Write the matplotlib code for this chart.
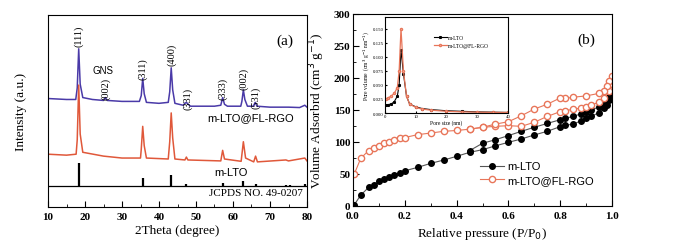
import matplotlib.pyplot as plt
from matplotlib.ticker import MultipleLocator

# ---- (a) XRD data, y in arbitrary units (0-100) ----
blue_x = [10, 15, 17.5, 17.9, 18.3, 18.7, 19.4, 22, 25, 25.5, 26, 30, 34.7, 35.2, 35.6, 36.0,
          36.6, 40, 42.5, 42.9, 43.3, 43.7, 44.3, 46.5, 47.0, 47.4, 47.9, 48.5, 55, 56.7, 57.2,
          57.7, 58.5, 62.1, 62.4, 62.8, 63.2, 63.9, 65.5, 66.0, 66.5, 70, 75, 78, 79.4, 80]
blue_y = [56.5, 56, 56, 62, 82.4, 64, 57, 56, 55.5, 57, 55.5, 55, 55, 58, 67, 59,
          54.5, 54, 54.5, 60, 72.5, 61, 54, 53, 54, 54.5, 53.5, 52.5, 52.5, 53, 57,
          53.5, 52.5, 52.5, 55, 61, 56, 52.5, 52.5, 54.5, 52.5, 52, 52, 51.8, 53, 52]

red_x = [10, 15, 17.6, 17.9, 18.3, 18.7, 19.4, 25, 30, 35, 35.2, 35.6, 36.0, 36.6, 42.5, 42.9,
         43.3, 43.7, 44.3, 47.0, 47.4, 47.8, 56.7, 57.2, 57.7, 62.2, 62.8, 63.4, 65.6, 66.1,
         66.6, 74.3, 75, 79.4, 80]
red_y = [27.5, 27, 27.5, 35, 63.5, 38, 28.5, 26.5, 25.5, 25.5, 30, 42, 32, 25.5, 25, 34,
         49, 36, 25, 24.5, 26, 24.5, 24, 29.5, 25, 23.8, 34, 25.5, 23.5, 26.5,
         23.5, 24.5, 24, 25.5, 24]

ref_pos = [18.3, 35.6, 43.3, 47.4, 57.2, 62.8, 66.1, 74.3, 75.3, 79.4]
ref_top = [22.8, 15.0, 16.6, 11.8, 12.6, 13.6, 12.2, 11.5, 11.5, 11.8]
ref_base = 11

hkl_labels = ['(111)', '(002)', '(311)', '(400)', '(331)', '(333)', '(002)', '(531)']
hkl_x = [18.3, 25.5, 35.6, 43.3, 47.7, 57.2, 62.8, 66.1]
hkl_y = [89.6, 62, 72.5, 80, 57, 62, 67, 57.5]

# ---- (b) N2 isotherm ----
lto_ads_p = [0.005, 0.03, 0.06, 0.08, 0.10, 0.12, 0.14, 0.16, 0.18, 0.20, 0.25, 0.30, 0.35, 0.40,
             0.45, 0.50, 0.55, 0.60, 0.65, 0.70, 0.75, 0.80, 0.82, 0.85, 0.88, 0.90, 0.92, 0.95,
             0.97, 0.98, 0.99, 1.0]
lto_ads_v = [2, 17, 29, 33, 38.5, 42, 45, 48.4, 51.5, 55, 60.4, 66.6, 71.8, 77.6,
             83.8, 88, 94, 99.5, 104.7, 111, 116.7, 124, 126, 128, 133, 137, 140, 146,
             153, 158, 165, 172]
lto_des_p = [1.0, 0.99, 0.98, 0.97, 0.95, 0.92, 0.90, 0.88, 0.85, 0.82, 0.80, 0.75, 0.70, 0.65,
             0.60, 0.55, 0.50, 0.45]
lto_des_v = [175, 170, 165, 160, 155, 150, 147, 144, 140, 137, 134.8, 129, 123, 116.7,
             110, 103.6, 98, 86.4]

rgo_ads_p = [0.005, 0.03, 0.06, 0.08, 0.10, 0.12, 0.14, 0.16, 0.18, 0.20, 0.25, 0.30, 0.35, 0.40,
             0.45, 0.50, 0.55, 0.60, 0.65, 0.70, 0.75, 0.80, 0.82, 0.85, 0.88, 0.90, 0.92, 0.95,
             0.97, 0.99, 1.0]
rgo_ads_v = [50, 74.5, 86.5, 90.6, 94, 98, 100.5, 103.6, 106, 107, 111.5, 114, 116.7, 118,
             120, 123, 124.5, 125.5, 124.5, 130.8, 140, 147.4, 149, 151, 153, 155, 158, 162,
             168, 180, 190]
rgo_des_p = [1.0, 0.99, 0.98, 0.97, 0.95, 0.90, 0.85, 0.82, 0.80, 0.75, 0.70, 0.65, 0.60, 0.55,
             0.50, 0.45]
rgo_des_v = [203, 195, 188, 180, 176, 172, 170, 168, 168.8, 159, 151.5, 141, 131.7, 128,
             123, 120]

# ---- inset: pore size distribution ----
psd_lto_x = [0.3, 1, 2, 3, 4, 4.6, 5.2, 6, 7, 8, 10, 12, 15, 20, 25, 30, 35, 40]
psd_lto_y = [0.014, 0.015, 0.016, 0.02, 0.03, 0.05, 0.113, 0.07, 0.03, 0.016, 0.011, 0.008,
             0.006, 0.004, 0.003, 0.002, 0.0015, 0.001]
psd_rgo_x = [0.3, 1, 2, 3, 4, 4.6, 5.2, 6, 7, 8, 10, 12, 15, 20, 25, 30, 35, 40]
psd_rgo_y = [0.025, 0.027, 0.03, 0.035, 0.045, 0.075, 0.15, 0.075, 0.03, 0.016, 0.01, 0.007,
             0.005, 0.003, 0.002, 0.0015, 0.001, 0.001]

blue = '#4a3aa8'
red = '#e0583a'
orange = '#e8765a'
serif = 'Liberation Serif'
sans = 'Liberation Sans'

fig = plt.figure(figsize=(6.96, 2.51), dpi=100)
W, H = 696, 251

# panel (a)
ax1 = fig.add_axes([48 / W, 1 - 208 / H, (307 - 48) / W, (208 - 16) / H])
ax1.plot(blue_x, blue_y, color=blue, lw=1.1)
ax1.plot(red_x, red_y, color=red, lw=1.1)
ax1.vlines(ref_pos, ref_base, ref_top, color='black', lw=1.6)
ax1.axhline(ref_base, color='black', lw=0.9)
for lab, x, y in zip(hkl_labels, hkl_x, hkl_y):
    ax1.text(x, y, lab, rotation=90, ha='center', va='center', fontsize=7.5, family=serif)
ax1.text(24.9, 71.5, 'GNS', ha='center', va='center', fontsize=7, family=sans)
ax1.text(74, 87, '(a)', ha='center', va='center', fontsize=11, family=serif)
ax1.text(76.5, 47, 'm-LTO@FL-RGO', ha='right', va='center', fontsize=8, family=sans)
ax1.text(55, 18, 'm-LTO', ha='left', va='center', fontsize=8, family=sans)
ax1.text(79, 7.3, 'JCPDS NO. 49-0207', ha='right', va='center', fontsize=8, family=serif)
ax1.set_xlim(10, 80)
ax1.set_ylim(0, 100)
ax1.set_yticks([])
ax1.xaxis.set_major_locator(MultipleLocator(10))
ax1.xaxis.set_minor_locator(MultipleLocator(5))
ax1.tick_params(axis='x', which='both', direction='in', labelsize=8)
ax1.tick_params(axis='x', which='major', length=4)
ax1.tick_params(axis='x', which='minor', length=2)
for t in ax1.get_xticklabels():
    t.set_family(serif)
    t.set_fontweight('bold')
ax1.set_xlabel('2Theta (degree)', fontsize=9.5, family=serif, labelpad=2)
ax1.set_ylabel('Intensity (a.u.)', fontsize=9.5, family=serif)
ax1.yaxis.set_label_coords(-0.08, 0.5)

# panel (b)
ax2 = fig.add_axes([353 / W, 1 - 207 / H, (612 - 353) / W, (207 - 15) / H])
ax2.plot(lto_ads_p, lto_ads_v, color='#555555', lw=0.8, marker='o', ms=4,
         mfc='black', mec='black', label='m-LTO')
ax2.plot(lto_des_p, lto_des_v, color='#555555', lw=0.8, marker='o', ms=4,
         mfc='black', mec='black')
ax2.plot(rgo_ads_p, rgo_ads_v, color=orange, lw=0.8, marker='o', ms=4.5,
         mfc='white', mec=orange, label='m-LTO@FL-RGO')
ax2.plot(rgo_des_p, rgo_des_v, color=orange, lw=0.8, marker='o', ms=4.5,
         mfc='white', mec=orange)
ax2.set_xlim(0, 1.0)
ax2.set_ylim(0, 300)
ax2.xaxis.set_major_locator(MultipleLocator(0.2))
ax2.xaxis.set_minor_locator(MultipleLocator(0.1))
ax2.yaxis.set_major_locator(MultipleLocator(50))
ax2.yaxis.set_minor_locator(MultipleLocator(25))
ax2.tick_params(which='both', direction='in', labelsize=8)
ax2.tick_params(axis='y', which='major', pad=2)
ax2.tick_params(which='major', length=4)
ax2.tick_params(which='minor', length=2)
for t in ax2.get_xticklabels() + ax2.get_yticklabels():
    t.set_family(serif)
    t.set_fontweight('bold')
ax2.set_xlabel('Relative pressure (P/P$_0$)', fontsize=9.5, family=serif, labelpad=4)
ax2.set_ylabel('Volume Adsorbrd (cm$^3$ g$^{-1}$)', fontsize=9.5, family=serif)
ax2.yaxis.set_label_coords(-0.1, 0.5)
ax2.text(0.90, 0.87, '(b)', transform=ax2.transAxes, ha='center', va='center',
         fontsize=11, family=serif)
ax2.legend(loc='lower left', bbox_to_anchor=(0.46, 0.07), frameon=False,
           prop={'family': sans, 'size': 8}, handlelength=2.2, handletextpad=0.3,
           borderpad=0.2, labelspacing=0.3)

# inset
ax3 = fig.add_axes([385 / W, 1 - 114 / H, (508 - 385) / W, (114 - 18) / H])
ax3.plot(psd_lto_x, psd_lto_y, color='black', lw=0.8, marker='s', ms=1.2, label='m-LTO')
ax3.plot(psd_rgo_x, psd_rgo_y, color=orange, lw=0.9, marker='o', ms=1.5, mfc='white',
         label='m-LTO@FL-RGO')
ax3.set_xlim(0, 40)
ax3.set_ylim(0, 0.171)
ax3.set_xticks([0, 10, 20, 30, 40])
ax3.set_yticks([0.0, 0.025, 0.05, 0.075, 0.1, 0.125, 0.15])
ax3.yaxis.set_major_formatter(plt.FormatStrFormatter('%.3f'))
ax3.tick_params(which='both', direction='in', labelsize=3.5, length=1.5, pad=1)
for t in ax3.get_xticklabels() + ax3.get_yticklabels():
    t.set_family(serif)
ax3.set_xlabel('Pore size (nm)', fontsize=4, family=serif, labelpad=0.5)
ax3.set_ylabel('Pore volume  (cm$^3$ g$^{-1}$ nm$^{-1}$)', fontsize=4, family=serif,
               labelpad=1)
ax3.legend(loc='upper left', bbox_to_anchor=(0.36, 0.86), frameon=False,
           prop={'family': serif, 'size': 4}, handlelength=2.2, handletextpad=0.3,
           labelspacing=0.5)

fig.savefig('out.png', dpi=100)
